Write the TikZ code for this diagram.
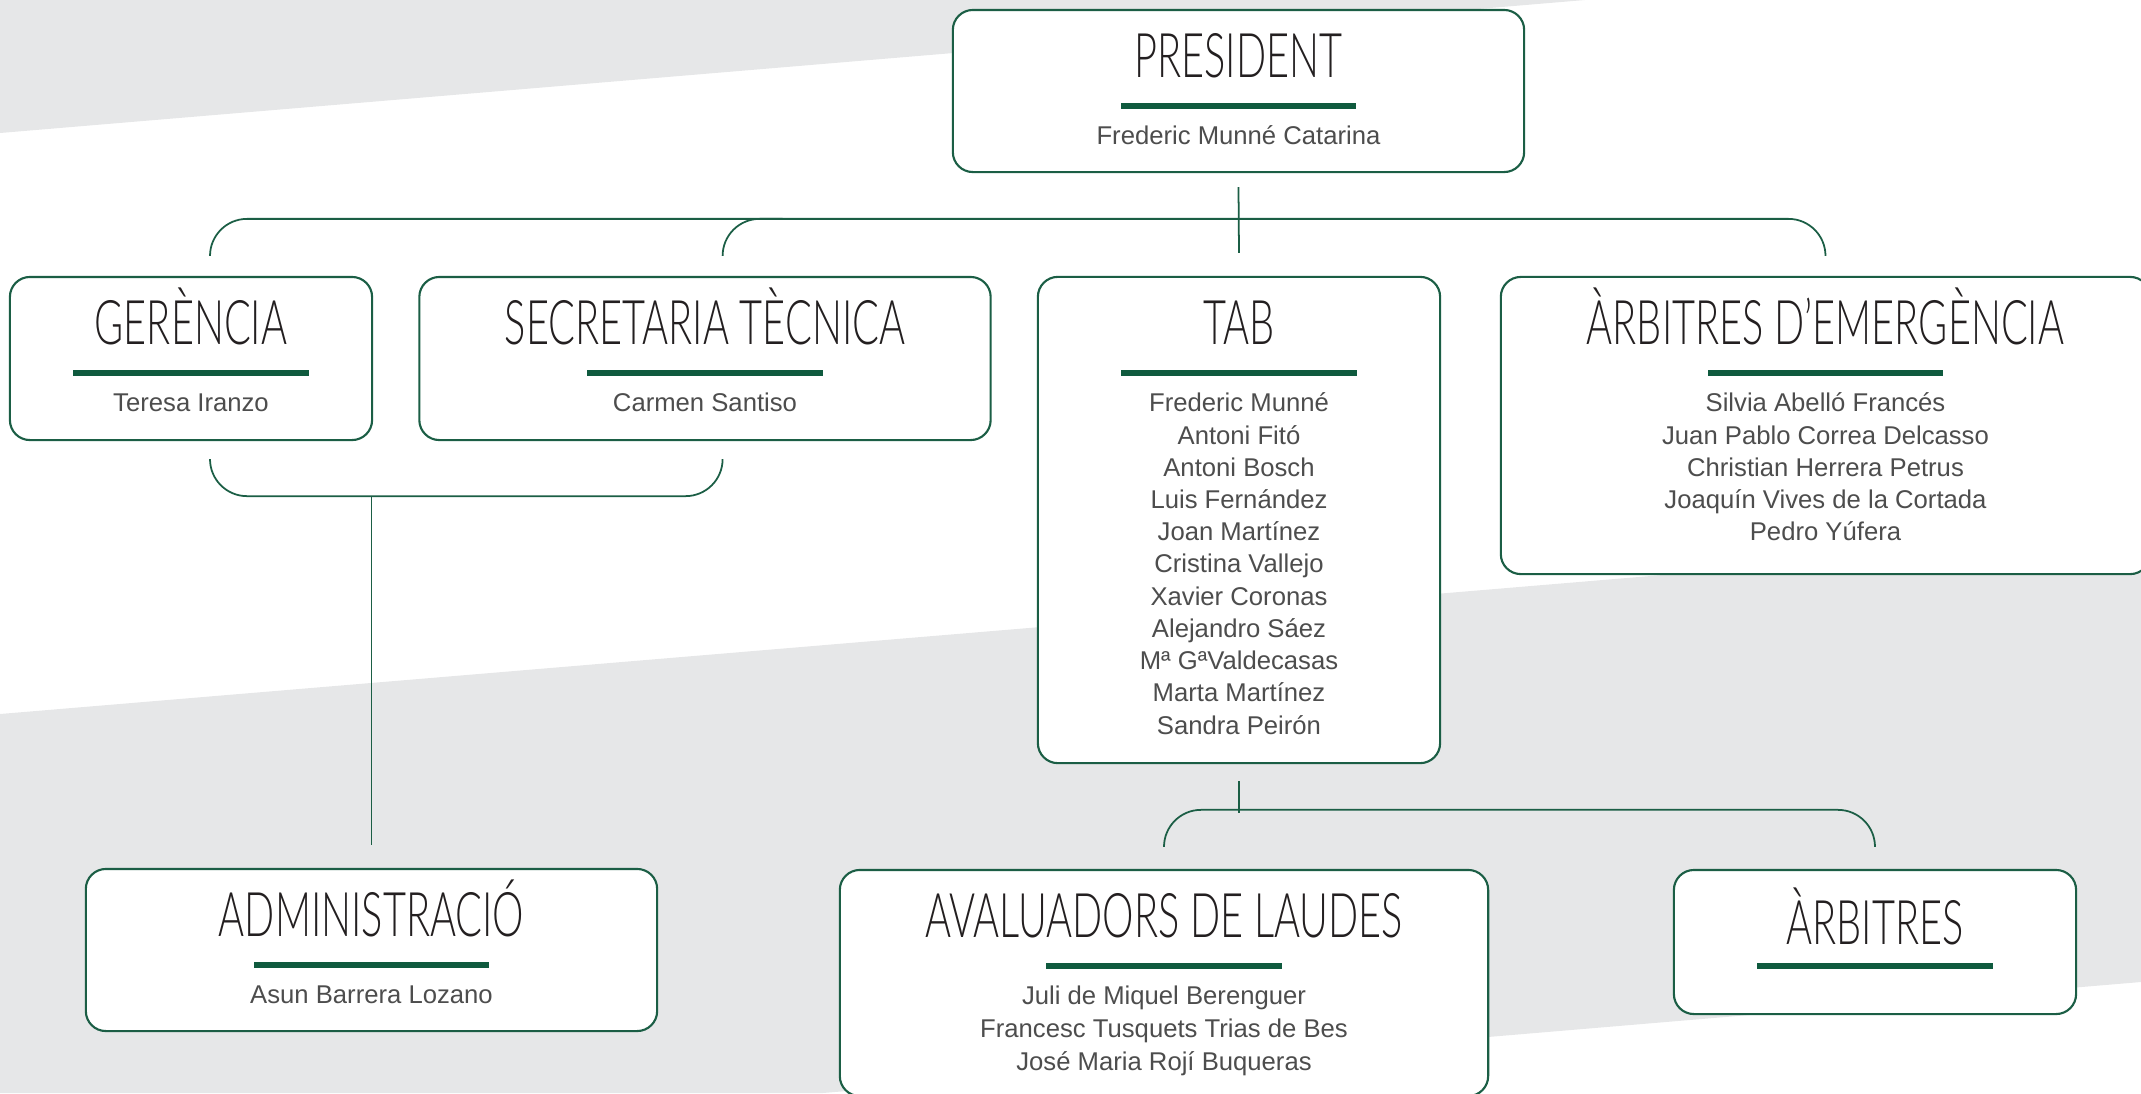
\documentclass[tikz,border=0pt]{standalone}
\usepackage{fontspec}
\setmainfont{Liberation Sans}
\newfontfamily\titlefont[FakeStretch=0.645]{Lato Light}
\usetikzlibrary{positioning, calc}
\definecolor{orggreen}{HTML}{1B5E45}
\definecolor{orgbar}{HTML}{0F5A3E}
\definecolor{orgink}{HTML}{231F20}
\definecolor{orgname}{HTML}{4D4D4D}
\definecolor{orgbg}{HTML}{E6E7E8}

\begin{document}
\begin{tikzpicture}[x=0.01cm, y=-0.01cm,
    box/.style={rectangle, draw=orggreen, line width=0.6pt, rounded corners=2mm, fill=white, inner sep=0pt},
    ttl/.style={anchor=base, inner sep=0pt, font=\titlefont\fontsize{17.5}{20}\selectfont, color=orgink},
    rule/.style={rectangle, fill=orgbar, minimum width=2.35cm, minimum height=0.6mm, inner sep=0pt},
    who/.style={anchor=base, inner sep=0pt, font=\fontsize{7.3}{9.16}\selectfont, color=orgname},
    link/.style={draw=orggreen, line width=0.5pt},
]
\useasboundingbox (0,0) rectangle (2141,1093);

% background bands
\fill[orgbg] (0,0) -- (1585,0) -- (0,133) -- cycle;
\fill[orgbg] (0,714) -- (2141,535) -- (2141,982) -- (823,1093) -- (0,1093) -- cycle;

% boxes
\foreach \n/\x/\y/\w/\h in {pres/1238.5/91/5.71/1.62, ger/191/358.5/3.62/1.63, sec/705/358.5/5.71/1.63,
    tab/1239/520/4.02/4.86, emerg/1825.5/425.5/6.49/2.97, admin/371.5/950/5.71/1.62,
    aval/1164/983/6.48/2.26, arb/1875/942/4.02/1.44} {
    \node[box, minimum width=\w cm, minimum height=\h cm] (\n) at (\x,\y) {};
    \node[rule] (\n-bar) at ([yshift=-9.7mm]\n.north) {};
}

% titles
\foreach \n/\t/\d in {pres/PRESIDENT/6.85, ger/GERÈNCIA/6.85, sec/SECRETARIA TÈCNICA/6.85, tab/TAB/6.85,
    emerg/ÀRBITRES D’EMERGÈNCIA/6.85, admin/ADMINISTRACIÓ/6.85, aval/AVALUADORS DE LAUDES/6.85, arb/ÀRBITRES/7.6} {
    \node[ttl] (\n-t) at ([yshift=-\d mm]\n.north) {\t};
}

% names
\node[who] (pres-w0) at ([yshift=-13.6mm]pres.north) {Frederic Munné Catarina};
\node[who] (ger-w0) at ([yshift=-13.6mm]ger.north) {Teresa Iranzo};
\node[who] (sec-w0) at ([yshift=-13.6mm]sec.north) {Carmen Santiso};
\node[who] (admin-w0) at ([yshift=-13.6mm]admin.north) {Asun Barrera Lozano};
\foreach \t [count=\i from 0] in {Frederic Munné, Antoni Fitó, Antoni Bosch, Luis Fernández, Joan Martínez,
    Cristina Vallejo, Xavier Coronas, Alejandro Sáez, Mª GªValdecasas, Marta Martínez, Sandra Peirón} {
    \node[who] (tab-w\i) at ([yshift={-13.6mm-\i*3.22mm}]tab.north) {\t};
}
\foreach \t [count=\i from 0] in {Silvia Abelló Francés, Juan Pablo Correa Delcasso, Christian Herrera Petrus,
    Joaquín Vives de la Cortada, Pedro Yúfera} {
    \node[who] (emerg-w\i) at ([yshift={-13.6mm-\i*3.22mm}]emerg.north) {\t};
}
\foreach \t [count=\i from 0] in {Juli de Miquel Berenguer, Francesc Tusquets Trias de Bes, José Maria Rojí Buqueras} {
    \node[who] (aval-w\i) at ([yshift={-13.6mm-\i*3.25mm}]aval.north) {\t};
}

% connectors
\draw[link] ([yshift=-1.4mm]pres.south) -- ([yshift=2.3mm]tab.north);
\draw[link, rounded corners=3.7mm] ([xshift=1.9mm, yshift=2mm]ger.north) -- ++(0,3.7mm) -| ([yshift=2mm]emerg.north);
\draw[link, rounded corners=3.7mm] ([xshift=1.76mm, yshift=2mm]sec.north) -- ++(0,3.7mm) -- ++(6mm,0);
\draw[link, rounded corners=3.7mm] ([xshift=1.9mm, yshift=-1.8mm]ger.south) -- ++(0,-3.7mm) -| ([xshift=1.76mm, yshift=-1.8mm]sec.south);
\draw[link] ($(ger.south -| admin.north)+(0,-5.5mm)$) -- ([yshift=2.3mm]admin.north);
\draw[link] ([yshift=-1.7mm]tab.south) -- ([yshift=-4.85mm]tab.south);
\draw[link, rounded corners=3.7mm] ([yshift=2.2mm]aval.north) -- ++(0,3.7mm) -| ([yshift=2.2mm]arb.north);

\end{tikzpicture}
\end{document}
